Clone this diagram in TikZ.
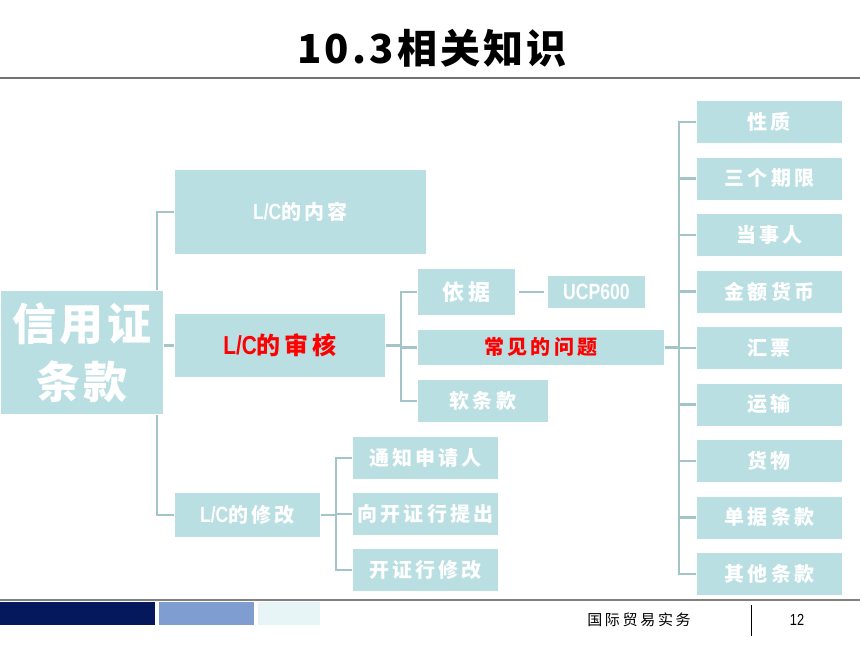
\documentclass[tikz,border=0pt]{standalone}
\usepackage{fontspec}
\setmainfont{Noto Sans CJK SC}
\newfontfamily\cjk{Noto Sans CJK SC}
\newfontfamily\cjksp[LetterSpace=16]{Noto Sans CJK SC}
\newcommand\cjkb{\cjksp\bfseries}
\newfontfamily\narrow[FakeStretch=0.8]{Liberation Sans}
\usetikzlibrary{backgrounds}
\definecolor{boxc}{HTML}{B9DFE2}
\definecolor{linec}{HTML}{A3C5CA}
\definecolor{navy}{HTML}{06185C}
\definecolor{midblue}{HTML}{809DD2}
\definecolor{lightc}{HTML}{E8F5F6}
\tikzset{
  bx/.style={fill=boxc, draw=white, line width=0.8pt, text=white, inner sep=0pt, anchor=north west, align=center, font=\cjkb\fontsize{20}{22}\selectfont},
  ln/.style={draw=linec, line width=2.5pt},
}
\begin{document}
\begin{tikzpicture}[x=1pt,y=-1pt]
\useasboundingbox (0,0) rectangle (860,645);
% title
\node (title) at (432,48) {\cjk\bfseries\addfontfeatures{LetterSpace=8}\fontsize{40}{44}\selectfont 10.3相关知识};
\draw[gray!90!black, line width=1.5pt] (0,78) coordinate (tl1) -- (860,78) coordinate (tl2);

% root
\node[bx, minimum width=163pt, minimum height=124pt, font=\cjk\bfseries\addfontfeatures{LetterSpace=8}\fontsize{44}{58}\selectfont] (root) at (0,290) {信用证\\条款};

% level 1
\node[bx, minimum width=252pt, minimum height=85pt] (lcnr) at (174,169) {\narrow\bfseries\fontsize{22}{24}\selectfont L/C\cjkb\fontsize{20}{22}\selectfont 的内容};
\node[bx, minimum width=211pt, minimum height=64pt, text=red, font=\cjkb\fontsize{24}{26}\selectfont] (lcsh) at (174,313) {\narrow\bfseries\fontsize{26}{26}\selectfont L/C\cjkb\fontsize{24}{26}\selectfont 的审核};
\node[bx, minimum width=146pt, minimum height=45pt] (lcxg) at (174,492) {\narrow\bfseries\fontsize{22}{24}\selectfont L/C\cjkb\fontsize{20}{22}\selectfont 的修改};

% middle group
\node[bx, minimum width=98pt, minimum height=47pt, font=\cjkb\fontsize{22}{24}\selectfont] (yiju) at (417,268) {依据};
\node[bx, minimum width=98pt, minimum height=33pt] (ucp) at (547,275) {\narrow\bfseries\fontsize{22}{24}\selectfont UCP600};
\node[bx, minimum width=247pt, minimum height=36pt, text=red] (cjwt) at (417,329) {常见的问题};
\node[bx, minimum width=131pt, minimum height=43pt] (rtk) at (417,379) {软条款};

% modification children
\node[bx, minimum width=146pt, minimum height=43pt] (tz) at (352,436) {通知申请人};
\node[bx, minimum width=146pt, minimum height=43pt] (xk) at (352,492) {向开证行提出};
\node[bx, minimum width=146pt, minimum height=43pt] (kz) at (352,548) {开证行修改};

% right column
\foreach \t/\n [count=\i from 0] in {性质/r1,三个期限/r2,当事人/r3,金额货币/r4,汇票/r5,运输/r6,货物/r7,单据条款/r8,其他条款/r9}{
  \node[bx, minimum width=146pt, minimum height=43pt] (\n) at (696,100+56.5*\i) {\t};
}

% connectors
\begin{scope}[on background layer]
\draw[ln] (lcnr.west) -- ([xshift=-17pt]lcnr.west) -- ([xshift=-17pt]lcxg.west) -- (lcxg.west);
\draw[ln] (root.east |- lcsh.west) -- (lcsh.west);
\draw[ln] (lcsh.east) -- ([xshift=-16pt]yiju.west |- lcsh.east);
\draw[ln] (yiju.west) -- ([xshift=-16pt]yiju.west) -- ([xshift=-16pt]rtk.west) -- (rtk.west);
\draw[ln] ([xshift=-16pt]cjwt.west) -- (cjwt.west);
\draw[ln, shorten <=3pt, shorten >=3pt] (yiju.east |- ucp.west) -- (ucp.west);
\draw[ln] (lcxg.east) -- ([xshift=-16pt]xk.west |- lcxg.east);
\draw[ln] (tz.west) -- ([xshift=-16pt]tz.west) -- ([xshift=-16pt]kz.west) -- (kz.west);
\draw[ln] ([xshift=-16pt]xk.west) -- (xk.west);
\draw[ln] (cjwt.east) -- ([xshift=-17pt]r5.west |- cjwt.east);
\draw[ln] (r1.west) -- ([xshift=-17pt]r1.west) -- ([xshift=-17pt]r9.west) -- (r9.west);
\foreach \n in {r2,r3,r4,r5,r6,r7,r8}{
  \draw[ln] (\n.west) -- ([xshift=-17pt]\n.west);
}
\end{scope}

% footer
\draw[gray, line width=2.5pt] (0,600) coordinate (fl1) -- (860,600) coordinate (fl2);
\fill[navy] (0,602) rectangle (155,625);
\fill[midblue] (159,602) rectangle (254,625);
\fill[lightc] (258,602) rectangle (320,625);
\node (course) at (639,620) {\cjk\addfontfeatures{LetterSpace=18}\fontsize{15}{16}\selectfont 国际贸易实务};
\draw[black, line width=1pt] (751,605) coordinate (vd1) -- (751,636) coordinate (vd2);
\node (page) at (797,620) {\narrow\fontsize{16}{16}\selectfont 12};
\end{tikzpicture}
\end{document}
